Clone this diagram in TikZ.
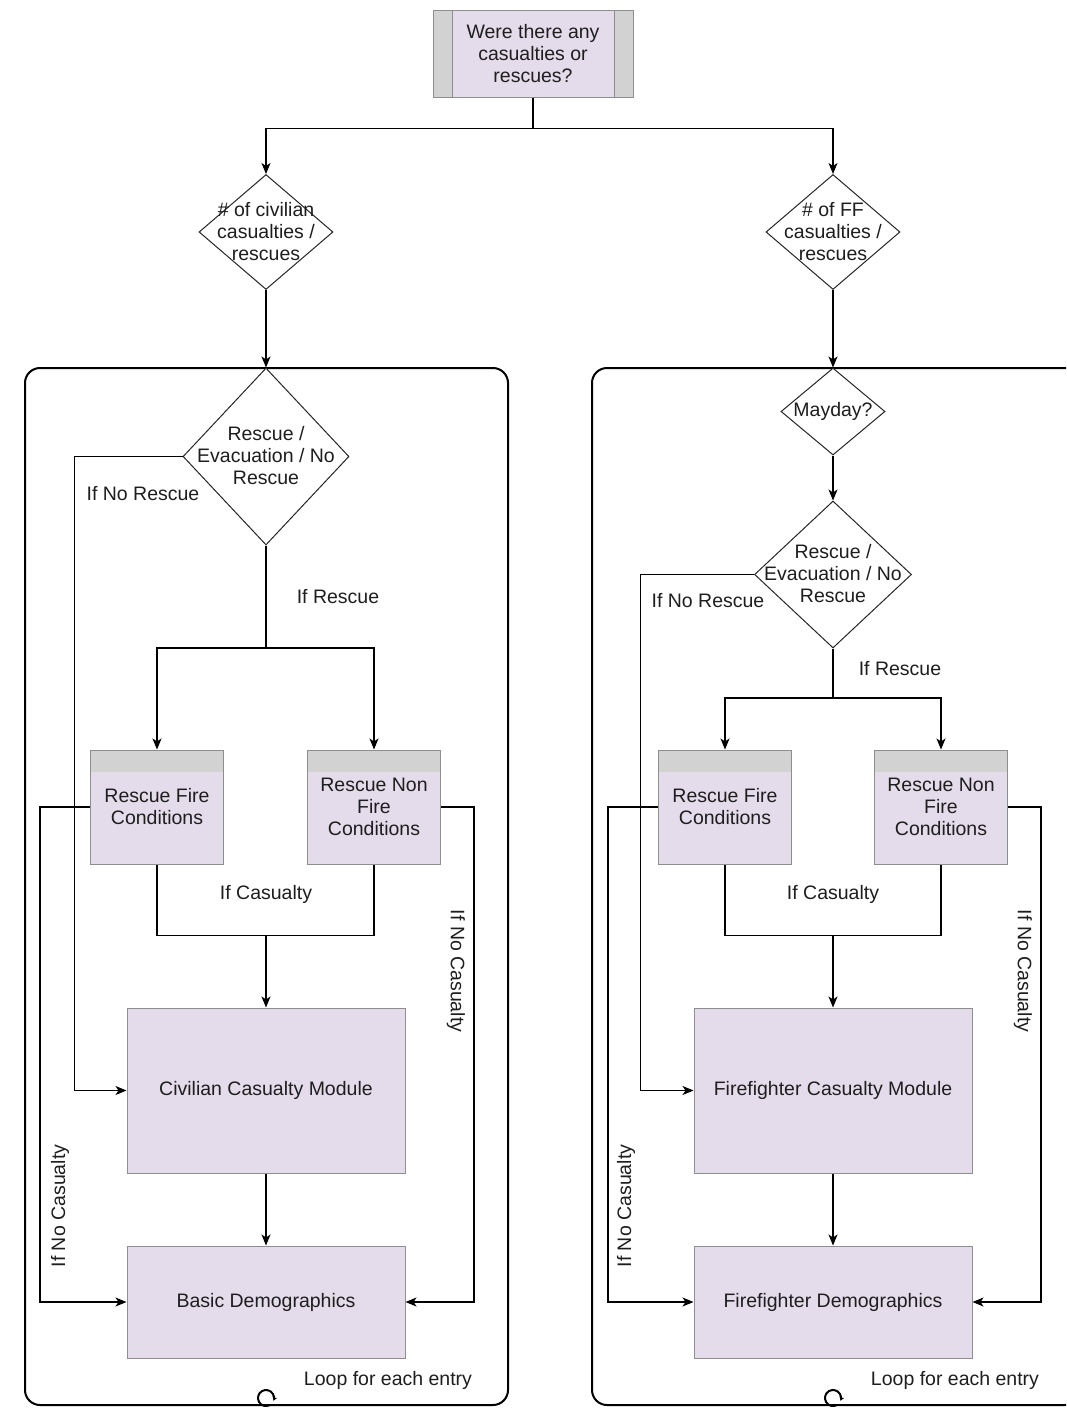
\documentclass[tikz,border=0pt]{standalone}
\usepackage{fontspec}
\setmainfont{Liberation Sans}
\usetikzlibrary{shapes.geometric,arrows.meta,calc}
\definecolor{lav}{HTML}{E5DCEB}
\definecolor{boxgray}{HTML}{8E8E8E}
\definecolor{hdr}{HTML}{D2D2D2}
\definecolor{ink}{HTML}{1E1E1E}
\tikzset{
  txt/.style={font=\fontsize{19.5}{22}\selectfont, text=ink, align=center, inner sep=0},
  box/.style={draw=boxgray, fill=lav, line width=1pt, inner sep=0, txt},
  hbox/.style={box, minimum width=133, minimum height=114,
    path picture={\fill[hdr] (path picture bounding box.north west) rectangle ([yshift=-22pt]path picture bounding box.north east);}},
  bigbox/.style={box, minimum width=278},
  dia/.style={diamond, draw=black!85, line width=1pt, inner sep=0, fill=white},
  cont/.style={draw=black, line width=2pt, rounded corners=15pt, inner sep=0},
  ln/.style={draw=black, line width=1.2pt},
  arr/.style={ln, -{Stealth[length=11pt,width=9pt,inset=3pt]}},
}
\begin{document}
\begin{tikzpicture}[x=1pt,y=-1pt]
\useasboundingbox (0,0) rectangle (1066,1408);
\clip (0,0) rectangle (1066,1408);
\fill[white] (0,0) rectangle (1066,1408);

% containers
\node[cont, minimum width=483, minimum height=1037] (cl) at (266.5,886.5) {};
\node[cont, minimum width=488, minimum height=1037] (cr) at (836,886.5) {};

% top question
\node[box, minimum width=200, minimum height=87,
  path picture={
    \fill[hdr] (path picture bounding box.north west) rectangle ([xshift=19pt]path picture bounding box.south west);
    \fill[hdr] (path picture bounding box.north east) rectangle ([xshift=-19pt]path picture bounding box.south east);
    \draw[boxgray,line width=1pt] ([xshift=19pt]path picture bounding box.north west) -- ([xshift=19pt]path picture bounding box.south west);
    \draw[boxgray,line width=1pt] ([xshift=-19pt]path picture bounding box.north east) -- ([xshift=-19pt]path picture bounding box.south east);
  }] (q) at (533,53.5) {Were there any\\casualties or\\rescues?};

% first level diamonds
\node[dia, minimum width=134, minimum height=115] (dciv) at (266,232) {};
\node[txt] (dcivt) at (266,232) {\# of civilian\\casualties /\\rescues};
\node[dia, minimum width=134, minimum height=115] (dff) at (833,232) {};
\node[txt] (dfft) at (833,232) {\# of FF\\casualties /\\rescues};

% left panel
\node[dia, minimum width=166, minimum height=177] (rl) at (266,456.5) {};
\node[txt] (rlt) at (266,456) {Rescue /\\Evacuation / No\\Rescue};
\node[hbox] (fl) at (157,807) {Rescue Fire\\Conditions};
\node[hbox] (nl) at (374,807) {Rescue Non\\Fire\\Conditions};
\node[bigbox, minimum height=165] (civ) at (266,1090.5) {Civilian Casualty Module};
\node[bigbox, minimum height=112] (bd) at (266,1302) {Basic Demographics};

% right panel
\node[dia, minimum width=104, minimum height=87] (may) at (833,411.5) {};
\node[txt] (mayt) at (833,411) {Mayday?};
\node[dia, minimum width=157, minimum height=147] (rr) at (833,574.5) {};
\node[txt] (rrt) at (833,574) {Rescue /\\Evacuation / No\\Rescue};
\node[hbox] (fr) at (725,807) {Rescue Fire\\Conditions};
\node[hbox] (nr) at (941,807) {Rescue Non\\Fire\\Conditions};
\node[bigbox, minimum height=165] (ffm) at (833,1090.5) {Firefighter Casualty Module};
\node[bigbox, minimum height=112] (fd) at (833,1302) {Firefighter Demographics};

% top connectors
\draw[ln] (q.south) -- ($(q.south)+(0,31)$) coordinate (qj);
\draw[arr] (qj) -| (dciv.north);
\draw[arr] (qj) -| (dff.north);
\draw[arr] (dciv.south) -- (rl.north);
\draw[arr] (dff.south) -- (may.north);
\draw[arr] (may.south) -- (rr.north);

% left panel connectors
\draw[ln] (rl.south) -- (266,648) coordinate (lj);
\draw[arr] (lj) -| (fl.north);
\draw[arr] (lj) -| (nl.north);
\draw[arr] (rl.west) -| ($(civ.west)+(-52,0)$) -- (civ.west);
\draw[ln] (fl.south) |- ($(civ.north)+(0,-72)$) coordinate (cj) -| (nl.south);
\draw[arr] (cj) -- (civ.north);
\draw[arr] (civ.south) -- (bd.north);
\draw[arr] (fl.west) -- ++(-50,0) |- (bd.west);
\draw[arr] (nl.east) -- ++(33,0) |- (bd.east);

% right panel connectors
\draw[ln] (rr.south) -- (833,698) coordinate (rj);
\draw[arr] (rj) -| (fr.north);
\draw[arr] (rj) -| (nr.north);
\draw[arr] (rr.west) -| ($(ffm.west)+(-53,0)$) -- (ffm.west);
\draw[ln] (fr.south) |- ($(ffm.north)+(0,-72)$) coordinate (fj) -| (nr.south);
\draw[arr] (fj) -- (ffm.north);
\draw[arr] (ffm.south) -- (fd.north);
\draw[arr] (fr.west) -- ++(-50,0) |- (fd.west);
\draw[arr] (nr.east) -- ++(33,0) |- (fd.east);

% labels
\node[txt] (l1) at (143,494) {If No Rescue};
\node[txt] (l2) at (338,597) {If Rescue};
\node[txt] (l3) at (266,894) {If Casualty};
\node[txt, rotate=90] (l4) at (60,1206) {If No Casualty};
\node[txt, rotate=-90] (l5) at (456,971) {If No Casualty};
\node[txt] (l6) at (388,1380) {Loop for each entry};

\node[txt] (r1) at (708,601) {If No Rescue};
\node[txt] (r2) at (900,669) {If Rescue};
\node[txt] (r3) at (833,894) {If Casualty};
\node[txt, rotate=90] (r4) at (626,1206) {If No Casualty};
\node[txt, rotate=-90] (r5) at (1023,971) {If No Casualty};
\node[txt] (r6) at (955,1380) {Loop for each entry};

% loop markers
\draw[line width=2pt, -{Stealth[length=4pt,width=5pt]}] (266,1398) ++(60:8) arc[start angle=60, end angle=380, radius=8];
\draw[line width=2pt, -{Stealth[length=4pt,width=5pt]}] (833,1398) ++(60:8) arc[start angle=60, end angle=380, radius=8];
\end{tikzpicture}
\end{document}
